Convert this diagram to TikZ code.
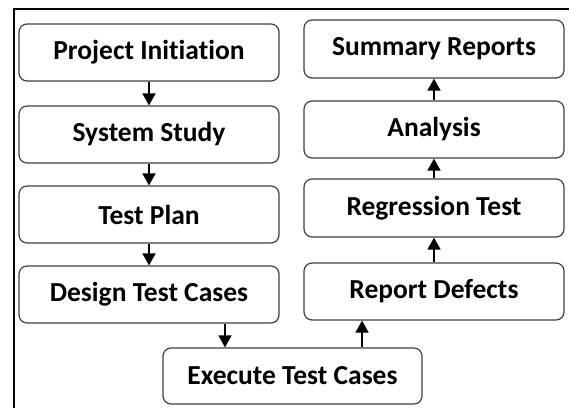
\documentclass[tikz,border=0pt]{standalone}
\usepackage{fontspec}
\setmainfont{Carlito}[Ligatures=NoCommon]
\usetikzlibrary{arrows.meta}
\begin{document}
\begin{tikzpicture}[x=1pt,y=-1pt,
  stage/.style={draw=black!75, line width=1.2pt, rounded corners=8pt,
    minimum width=260pt, minimum height=57pt, inner sep=0pt,
    font=\fontsize{27.5}{30}\selectfont\bfseries, text=black},
  flow/.style={draw=black, line width=1.5pt,
    -{Triangle[length=12pt,width=13pt]}}]
  \useasboundingbox (0,0) rectangle (569,408);
  % open frame around the chart
  \draw[line width=1.6pt] (14,408) -- (14,9) -- (569,9);
  % left column
  \node[stage] (init)   at (149,52.5)  {Project Initiation};
  \node[stage] (study)  at (149,134.5) {System Study};
  \node[stage] (plan)   at (149,214.5) {Test Plan};
  \node[stage] (design) at (149,294.5) {Design Test Cases};
  % bottom
  \node[stage, minimum width=259pt, minimum height=56pt] (exec) at (292.5,376) {Execute Test Cases};
  % right column
  \node[stage, minimum height=58pt] (summary) at (434,49)   {Summary Reports};
  \node[stage] (analysis) at (434,129.5) {Analysis};
  \node[stage, minimum height=58pt] (regress)  at (434,208)   {Regression Test};
  \node[stage] (report)   at (434,291.5) {Report Defects};
  % connectors
  \draw[flow] (init) -- (study);
  \draw[flow] (study) -- (plan);
  \draw[flow] (plan) -- (design);
  \draw[flow] (design.south -| 225,0) -- (exec.north -| 225,0);
  \draw[flow] (exec.north -| 362,0) -- (report.south -| 362,0);
  \draw[flow] (report) -- (regress);
  \draw[flow] (regress) -- (analysis);
  \draw[flow] (analysis) -- (summary);
\end{tikzpicture}
\end{document}
